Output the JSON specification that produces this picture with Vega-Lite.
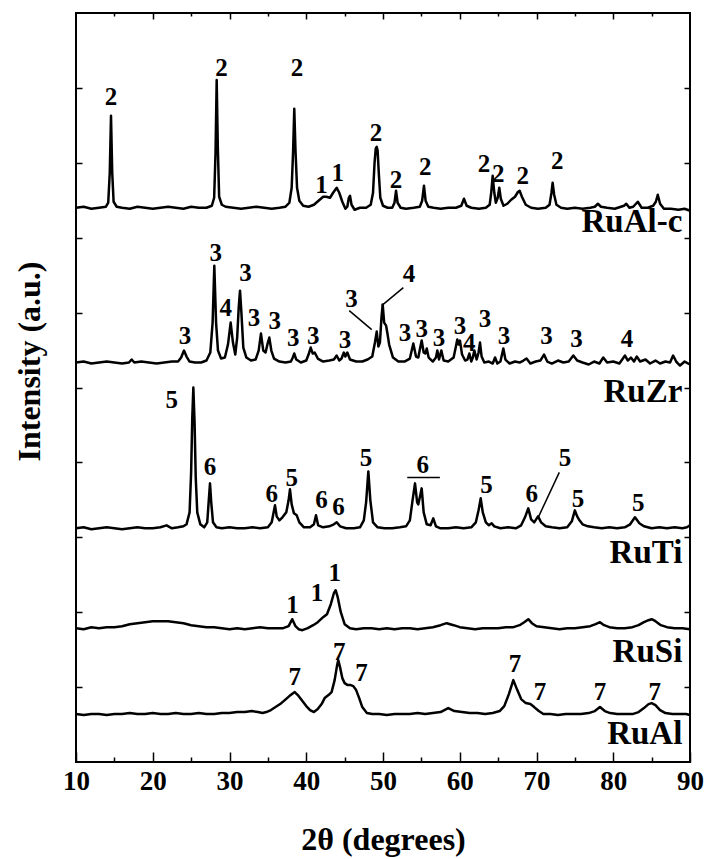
{
"$schema":"https://vega.github.io/schema/vega-lite/v6.json",
"width":614,"height":749,
"autosize":{"type":"none"},
"padding":{"left":76,"top":13,"right":19,"bottom":97},
"config":{"view":{"stroke":"black","strokeWidth":2},"axis":{"grid":false,"domain":false,"tickColor":"black","tickWidth":1.5}},
"datasets":{
"xrd":[
{"s":"RuAl-c","x":10,"y":555},{"s":"RuAl-c","x":11,"y":556},{"s":"RuAl-c","x":12,"y":554},{"s":"RuAl-c","x":13,"y":555},{"s":"RuAl-c","x":13.9,"y":556},{"s":"RuAl-c","x":14.2,"y":560},{"s":"RuAl-c","x":14.4,"y":590},{"s":"RuAl-c","x":14.56,"y":647},{"s":"RuAl-c","x":14.72,"y":590},{"s":"RuAl-c","x":14.9,"y":561},{"s":"RuAl-c","x":15.3,"y":556},{"s":"RuAl-c","x":16,"y":555},{"s":"RuAl-c","x":17,"y":554},{"s":"RuAl-c","x":18,"y":556},{"s":"RuAl-c","x":19,"y":555},{"s":"RuAl-c","x":20,"y":554},{"s":"RuAl-c","x":21,"y":555},{"s":"RuAl-c","x":22,"y":556},{"s":"RuAl-c","x":23,"y":555},{"s":"RuAl-c","x":24,"y":554},{"s":"RuAl-c","x":25,"y":556},{"s":"RuAl-c","x":26,"y":555},{"s":"RuAl-c","x":27,"y":555},{"s":"RuAl-c","x":27.7,"y":557},{"s":"RuAl-c","x":28.0,"y":565},{"s":"RuAl-c","x":28.18,"y":610},{"s":"RuAl-c","x":28.33,"y":683},{"s":"RuAl-c","x":28.48,"y":615},{"s":"RuAl-c","x":28.65,"y":566},{"s":"RuAl-c","x":29.0,"y":558},{"s":"RuAl-c","x":29.5,"y":556},{"s":"RuAl-c","x":30.5,"y":555},{"s":"RuAl-c","x":31.5,"y":554},{"s":"RuAl-c","x":32.5,"y":555},{"s":"RuAl-c","x":33.5,"y":556},{"s":"RuAl-c","x":34.5,"y":555},{"s":"RuAl-c","x":35.5,"y":554},{"s":"RuAl-c","x":36.5,"y":555},{"s":"RuAl-c","x":37.3,"y":556},{"s":"RuAl-c","x":37.8,"y":560},{"s":"RuAl-c","x":38.1,"y":575},{"s":"RuAl-c","x":38.28,"y":610},{"s":"RuAl-c","x":38.44,"y":654},{"s":"RuAl-c","x":38.6,"y":612},{"s":"RuAl-c","x":38.8,"y":575},{"s":"RuAl-c","x":39.1,"y":562},{"s":"RuAl-c","x":39.6,"y":557},{"s":"RuAl-c","x":40.3,"y":556},{"s":"RuAl-c","x":41.0,"y":558},{"s":"RuAl-c","x":41.6,"y":562},{"s":"RuAl-c","x":42.2,"y":566},{"s":"RuAl-c","x":42.6,"y":566},{"s":"RuAl-c","x":43.1,"y":565},{"s":"RuAl-c","x":43.5,"y":570},{"s":"RuAl-c","x":43.97,"y":575},{"s":"RuAl-c","x":44.3,"y":570},{"s":"RuAl-c","x":44.7,"y":561},{"s":"RuAl-c","x":45.1,"y":554},{"s":"RuAl-c","x":45.35,"y":556},{"s":"RuAl-c","x":45.55,"y":565},{"s":"RuAl-c","x":45.7,"y":567},{"s":"RuAl-c","x":45.9,"y":558},{"s":"RuAl-c","x":46.3,"y":553},{"s":"RuAl-c","x":47.0,"y":555},{"s":"RuAl-c","x":47.8,"y":555},{"s":"RuAl-c","x":48.4,"y":558},{"s":"RuAl-c","x":48.7,"y":570},{"s":"RuAl-c","x":48.9,"y":600},{"s":"RuAl-c","x":49.05,"y":614},{"s":"RuAl-c","x":49.18,"y":616},{"s":"RuAl-c","x":49.3,"y":612},{"s":"RuAl-c","x":49.45,"y":590},{"s":"RuAl-c","x":49.65,"y":565},{"s":"RuAl-c","x":50.0,"y":557},{"s":"RuAl-c","x":50.6,"y":555},{"s":"RuAl-c","x":51.2,"y":555},{"s":"RuAl-c","x":51.5,"y":560},{"s":"RuAl-c","x":51.7,"y":572},{"s":"RuAl-c","x":51.9,"y":560},{"s":"RuAl-c","x":52.3,"y":555},{"s":"RuAl-c","x":53,"y":554},{"s":"RuAl-c","x":54,"y":555},{"s":"RuAl-c","x":54.8,"y":556},{"s":"RuAl-c","x":55.1,"y":562},{"s":"RuAl-c","x":55.34,"y":577},{"s":"RuAl-c","x":55.55,"y":562},{"s":"RuAl-c","x":55.9,"y":556},{"s":"RuAl-c","x":56.6,"y":555},{"s":"RuAl-c","x":57.5,"y":554},{"s":"RuAl-c","x":58.5,"y":555},{"s":"RuAl-c","x":59.5,"y":555},{"s":"RuAl-c","x":60.2,"y":557},{"s":"RuAl-c","x":60.55,"y":564},{"s":"RuAl-c","x":60.9,"y":557},{"s":"RuAl-c","x":61.5,"y":555},{"s":"RuAl-c","x":62.5,"y":554},{"s":"RuAl-c","x":63.4,"y":555},{"s":"RuAl-c","x":63.9,"y":558},{"s":"RuAl-c","x":64.1,"y":570},{"s":"RuAl-c","x":64.29,"y":587},{"s":"RuAl-c","x":64.5,"y":570},{"s":"RuAl-c","x":64.7,"y":560},{"s":"RuAl-c","x":64.95,"y":565},{"s":"RuAl-c","x":65.15,"y":575},{"s":"RuAl-c","x":65.35,"y":564},{"s":"RuAl-c","x":65.7,"y":557},{"s":"RuAl-c","x":66.2,"y":559},{"s":"RuAl-c","x":66.7,"y":563},{"s":"RuAl-c","x":67.2,"y":566},{"s":"RuAl-c","x":67.6,"y":571},{"s":"RuAl-c","x":67.8,"y":572},{"s":"RuAl-c","x":68.1,"y":566},{"s":"RuAl-c","x":68.6,"y":558},{"s":"RuAl-c","x":69.3,"y":555},{"s":"RuAl-c","x":70.2,"y":554},{"s":"RuAl-c","x":71.2,"y":555},{"s":"RuAl-c","x":71.7,"y":558},{"s":"RuAl-c","x":71.95,"y":570},{"s":"RuAl-c","x":72.1,"y":580},{"s":"RuAl-c","x":72.3,"y":568},{"s":"RuAl-c","x":72.6,"y":558},{"s":"RuAl-c","x":73.2,"y":555},{"s":"RuAl-c","x":74,"y":554},{"s":"RuAl-c","x":75,"y":555},{"s":"RuAl-c","x":76,"y":554},{"s":"RuAl-c","x":77,"y":555},{"s":"RuAl-c","x":77.6,"y":556},{"s":"RuAl-c","x":78.0,"y":559},{"s":"RuAl-c","x":78.4,"y":556},{"s":"RuAl-c","x":79.2,"y":555},{"s":"RuAl-c","x":80.2,"y":554},{"s":"RuAl-c","x":81.0,"y":556},{"s":"RuAl-c","x":81.4,"y":557},{"s":"RuAl-c","x":81.7,"y":559},{"s":"RuAl-c","x":82.1,"y":555},{"s":"RuAl-c","x":82.6,"y":556},{"s":"RuAl-c","x":83.2,"y":561},{"s":"RuAl-c","x":83.7,"y":555},{"s":"RuAl-c","x":84.5,"y":555},{"s":"RuAl-c","x":85.2,"y":557},{"s":"RuAl-c","x":85.55,"y":561},{"s":"RuAl-c","x":85.8,"y":568},{"s":"RuAl-c","x":86.1,"y":559},{"s":"RuAl-c","x":86.6,"y":554},{"s":"RuAl-c","x":87.5,"y":554},{"s":"RuAl-c","x":88.5,"y":553},{"s":"RuAl-c","x":89.3,"y":554},{"s":"RuAl-c","x":90,"y":552},
{"s":"RuZr","x":10,"y":400},{"s":"RuZr","x":11,"y":401},{"s":"RuZr","x":12,"y":399},{"s":"RuZr","x":13,"y":400},{"s":"RuZr","x":14,"y":401},{"s":"RuZr","x":15,"y":400},{"s":"RuZr","x":16,"y":399},{"s":"RuZr","x":16.9,"y":400},{"s":"RuZr","x":17.25,"y":403},{"s":"RuZr","x":17.6,"y":400},{"s":"RuZr","x":18.5,"y":401},{"s":"RuZr","x":19.5,"y":400},{"s":"RuZr","x":20.5,"y":399},{"s":"RuZr","x":21.5,"y":400},{"s":"RuZr","x":22.5,"y":401},{"s":"RuZr","x":23.3,"y":401},{"s":"RuZr","x":23.7,"y":405},{"s":"RuZr","x":24.07,"y":412},{"s":"RuZr","x":24.4,"y":406},{"s":"RuZr","x":24.8,"y":401},{"s":"RuZr","x":25.5,"y":400},{"s":"RuZr","x":26.3,"y":400},{"s":"RuZr","x":27.0,"y":402},{"s":"RuZr","x":27.5,"y":410},{"s":"RuZr","x":27.8,"y":440},{"s":"RuZr","x":28.02,"y":497},{"s":"RuZr","x":28.25,"y":440},{"s":"RuZr","x":28.5,"y":412},{"s":"RuZr","x":28.9,"y":404},{"s":"RuZr","x":29.4,"y":405},{"s":"RuZr","x":29.8,"y":418},{"s":"RuZr","x":30.15,"y":440},{"s":"RuZr","x":30.45,"y":420},{"s":"RuZr","x":30.75,"y":408},{"s":"RuZr","x":31.0,"y":425},{"s":"RuZr","x":31.2,"y":455},{"s":"RuZr","x":31.37,"y":472},{"s":"RuZr","x":31.55,"y":450},{"s":"RuZr","x":31.8,"y":415},{"s":"RuZr","x":32.2,"y":405},{"s":"RuZr","x":32.8,"y":402},{"s":"RuZr","x":33.4,"y":403},{"s":"RuZr","x":33.8,"y":412},{"s":"RuZr","x":34.1,"y":429},{"s":"RuZr","x":34.4,"y":412},{"s":"RuZr","x":34.7,"y":410},{"s":"RuZr","x":35.0,"y":420},{"s":"RuZr","x":35.19,"y":425},{"s":"RuZr","x":35.45,"y":412},{"s":"RuZr","x":35.8,"y":404},{"s":"RuZr","x":36.5,"y":401},{"s":"RuZr","x":37.3,"y":400},{"s":"RuZr","x":38.0,"y":401},{"s":"RuZr","x":38.25,"y":405},{"s":"RuZr","x":38.44,"y":409},{"s":"RuZr","x":38.7,"y":403},{"s":"RuZr","x":39.3,"y":400},{"s":"RuZr","x":40.0,"y":402},{"s":"RuZr","x":40.3,"y":408},{"s":"RuZr","x":40.58,"y":415},{"s":"RuZr","x":40.85,"y":409},{"s":"RuZr","x":41.1,"y":410},{"s":"RuZr","x":41.5,"y":404},{"s":"RuZr","x":42.2,"y":401},{"s":"RuZr","x":43.0,"y":402},{"s":"RuZr","x":43.6,"y":403},{"s":"RuZr","x":43.96,"y":407},{"s":"RuZr","x":44.3,"y":402},{"s":"RuZr","x":44.6,"y":404},{"s":"RuZr","x":44.9,"y":410},{"s":"RuZr","x":45.1,"y":406},{"s":"RuZr","x":45.35,"y":410},{"s":"RuZr","x":45.7,"y":403},{"s":"RuZr","x":46.5,"y":401},{"s":"RuZr","x":47.3,"y":401},{"s":"RuZr","x":48.0,"y":403},{"s":"RuZr","x":48.6,"y":406},{"s":"RuZr","x":48.95,"y":420},{"s":"RuZr","x":49.18,"y":431},{"s":"RuZr","x":49.4,"y":416},{"s":"RuZr","x":49.6,"y":420},{"s":"RuZr","x":49.8,"y":445},{"s":"RuZr","x":49.96,"y":458},{"s":"RuZr","x":50.15,"y":440},{"s":"RuZr","x":50.4,"y":437},{"s":"RuZr","x":50.6,"y":428},{"s":"RuZr","x":50.8,"y":418},{"s":"RuZr","x":51.3,"y":405},{"s":"RuZr","x":52.0,"y":401},{"s":"RuZr","x":52.8,"y":401},{"s":"RuZr","x":53.5,"y":404},{"s":"RuZr","x":53.95,"y":419},{"s":"RuZr","x":54.3,"y":406},{"s":"RuZr","x":54.6,"y":405},{"s":"RuZr","x":54.85,"y":415},{"s":"RuZr","x":55.04,"y":422},{"s":"RuZr","x":55.3,"y":410},{"s":"RuZr","x":55.5,"y":409},{"s":"RuZr","x":55.7,"y":414},{"s":"RuZr","x":55.95,"y":405},{"s":"RuZr","x":56.5,"y":401},{"s":"RuZr","x":56.9,"y":405},{"s":"RuZr","x":57.08,"y":412},{"s":"RuZr","x":57.3,"y":403},{"s":"RuZr","x":57.6,"y":412},{"s":"RuZr","x":57.9,"y":402},{"s":"RuZr","x":58.5,"y":401},{"s":"RuZr","x":59.2,"y":405},{"s":"RuZr","x":59.5,"y":416},{"s":"RuZr","x":59.68,"y":423},{"s":"RuZr","x":59.85,"y":418},{"s":"RuZr","x":60.03,"y":422},{"s":"RuZr","x":60.3,"y":408},{"s":"RuZr","x":60.7,"y":402},{"s":"RuZr","x":61.0,"y":403},{"s":"RuZr","x":61.25,"y":409},{"s":"RuZr","x":61.5,"y":401},{"s":"RuZr","x":61.7,"y":405},{"s":"RuZr","x":61.9,"y":412},{"s":"RuZr","x":62.2,"y":403},{"s":"RuZr","x":62.45,"y":410},{"s":"RuZr","x":62.64,"y":420},{"s":"RuZr","x":62.85,"y":406},{"s":"RuZr","x":63.2,"y":400},{"s":"RuZr","x":63.8,"y":401},{"s":"RuZr","x":64.3,"y":399},{"s":"RuZr","x":64.6,"y":405},{"s":"RuZr","x":64.9,"y":399},{"s":"RuZr","x":65.3,"y":401},{"s":"RuZr","x":65.68,"y":414},{"s":"RuZr","x":65.95,"y":403},{"s":"RuZr","x":66.5,"y":399},{"s":"RuZr","x":67.2,"y":401},{"s":"RuZr","x":67.8,"y":400},{"s":"RuZr","x":68.3,"y":402},{"s":"RuZr","x":68.7,"y":404},{"s":"RuZr","x":69.2,"y":399},{"s":"RuZr","x":69.9,"y":401},{"s":"RuZr","x":70.5,"y":402},{"s":"RuZr","x":70.98,"y":408},{"s":"RuZr","x":71.4,"y":401},{"s":"RuZr","x":72.0,"y":399},{"s":"RuZr","x":72.8,"y":402},{"s":"RuZr","x":73.5,"y":400},{"s":"RuZr","x":74.2,"y":401},{"s":"RuZr","x":74.8,"y":407},{"s":"RuZr","x":75.3,"y":402},{"s":"RuZr","x":76.0,"y":400},{"s":"RuZr","x":76.8,"y":398},{"s":"RuZr","x":77.5,"y":401},{"s":"RuZr","x":78.2,"y":399},{"s":"RuZr","x":78.7,"y":405},{"s":"RuZr","x":79.2,"y":400},{"s":"RuZr","x":80.0,"y":401},{"s":"RuZr","x":80.8,"y":399},{"s":"RuZr","x":81.53,"y":407},{"s":"RuZr","x":81.9,"y":402},{"s":"RuZr","x":82.3,"y":405},{"s":"RuZr","x":82.7,"y":401},{"s":"RuZr","x":83.06,"y":406},{"s":"RuZr","x":83.5,"y":401},{"s":"RuZr","x":84.2,"y":403},{"s":"RuZr","x":84.8,"y":399},{"s":"RuZr","x":85.5,"y":402},{"s":"RuZr","x":86.1,"y":399},{"s":"RuZr","x":86.8,"y":401},{"s":"RuZr","x":87.4,"y":400},{"s":"RuZr","x":87.8,"y":407},{"s":"RuZr","x":88.2,"y":401},{"s":"RuZr","x":88.7,"y":397},{"s":"RuZr","x":89.3,"y":401},{"s":"RuZr","x":90,"y":398},
{"s":"RuTi","x":10,"y":234},{"s":"RuTi","x":11,"y":235},{"s":"RuTi","x":12,"y":233},{"s":"RuTi","x":13,"y":234},{"s":"RuTi","x":14,"y":235},{"s":"RuTi","x":15,"y":234},{"s":"RuTi","x":16,"y":233},{"s":"RuTi","x":17,"y":234},{"s":"RuTi","x":18,"y":235},{"s":"RuTi","x":19,"y":234},{"s":"RuTi","x":20,"y":234},{"s":"RuTi","x":21,"y":235},{"s":"RuTi","x":21.8,"y":237},{"s":"RuTi","x":22.5,"y":234},{"s":"RuTi","x":23.3,"y":235},{"s":"RuTi","x":24.0,"y":236},{"s":"RuTi","x":24.4,"y":238},{"s":"RuTi","x":24.8,"y":250},{"s":"RuTi","x":25.0,"y":290},{"s":"RuTi","x":25.15,"y":345},{"s":"RuTi","x":25.29,"y":375},{"s":"RuTi","x":25.45,"y":340},{"s":"RuTi","x":25.6,"y":285},{"s":"RuTi","x":25.8,"y":250},{"s":"RuTi","x":26.2,"y":238},{"s":"RuTi","x":26.7,"y":235},{"s":"RuTi","x":27.1,"y":240},{"s":"RuTi","x":27.3,"y":262},{"s":"RuTi","x":27.46,"y":279},{"s":"RuTi","x":27.62,"y":260},{"s":"RuTi","x":27.85,"y":240},{"s":"RuTi","x":28.3,"y":235},{"s":"RuTi","x":29,"y":234},{"s":"RuTi","x":30,"y":235},{"s":"RuTi","x":31,"y":234},{"s":"RuTi","x":32,"y":234},{"s":"RuTi","x":33,"y":235},{"s":"RuTi","x":34,"y":234},{"s":"RuTi","x":35,"y":235},{"s":"RuTi","x":35.5,"y":240},{"s":"RuTi","x":35.75,"y":250},{"s":"RuTi","x":35.93,"y":257},{"s":"RuTi","x":36.15,"y":246},{"s":"RuTi","x":36.5,"y":242},{"s":"RuTi","x":36.9,"y":245},{"s":"RuTi","x":37.4,"y":250},{"s":"RuTi","x":37.7,"y":262},{"s":"RuTi","x":37.88,"y":273},{"s":"RuTi","x":38.1,"y":258},{"s":"RuTi","x":38.4,"y":249},{"s":"RuTi","x":38.76,"y":247},{"s":"RuTi","x":39.1,"y":240},{"s":"RuTi","x":39.7,"y":235},{"s":"RuTi","x":40.5,"y":235},{"s":"RuTi","x":41.0,"y":238},{"s":"RuTi","x":41.27,"y":247},{"s":"RuTi","x":41.55,"y":237},{"s":"RuTi","x":42.2,"y":235},{"s":"RuTi","x":43.0,"y":236},{"s":"RuTi","x":43.6,"y":238},{"s":"RuTi","x":43.97,"y":240},{"s":"RuTi","x":44.4,"y":236},{"s":"RuTi","x":45.2,"y":234},{"s":"RuTi","x":46.2,"y":234},{"s":"RuTi","x":47.0,"y":235},{"s":"RuTi","x":47.5,"y":242},{"s":"RuTi","x":47.8,"y":260},{"s":"RuTi","x":48.09,"y":291},{"s":"RuTi","x":48.35,"y":262},{"s":"RuTi","x":48.7,"y":240},{"s":"RuTi","x":49.3,"y":235},{"s":"RuTi","x":50.2,"y":234},{"s":"RuTi","x":51.2,"y":234},{"s":"RuTi","x":52.2,"y":235},{"s":"RuTi","x":53.0,"y":236},{"s":"RuTi","x":53.5,"y":242},{"s":"RuTi","x":53.85,"y":262},{"s":"RuTi","x":54.17,"y":279},{"s":"RuTi","x":54.45,"y":260},{"s":"RuTi","x":54.6,"y":258},{"s":"RuTi","x":54.8,"y":265},{"s":"RuTi","x":55.04,"y":274},{"s":"RuTi","x":55.3,"y":250},{"s":"RuTi","x":55.7,"y":238},{"s":"RuTi","x":56.2,"y":237},{"s":"RuTi","x":56.55,"y":244},{"s":"RuTi","x":56.9,"y":236},{"s":"RuTi","x":57.5,"y":234},{"s":"RuTi","x":58.5,"y":234},{"s":"RuTi","x":59.5,"y":235},{"s":"RuTi","x":60.5,"y":234},{"s":"RuTi","x":61.5,"y":235},{"s":"RuTi","x":62.1,"y":240},{"s":"RuTi","x":62.45,"y":252},{"s":"RuTi","x":62.73,"y":264},{"s":"RuTi","x":63.0,"y":250},{"s":"RuTi","x":63.4,"y":240},{"s":"RuTi","x":63.8,"y":237},{"s":"RuTi","x":64.16,"y":239},{"s":"RuTi","x":64.5,"y":236},{"s":"RuTi","x":65.3,"y":234},{"s":"RuTi","x":66.3,"y":235},{"s":"RuTi","x":67.3,"y":234},{"s":"RuTi","x":68.0,"y":237},{"s":"RuTi","x":68.5,"y":245},{"s":"RuTi","x":68.93,"y":254},{"s":"RuTi","x":69.3,"y":243},{"s":"RuTi","x":69.7,"y":240},{"s":"RuTi","x":70.2,"y":246},{"s":"RuTi","x":70.6,"y":240},{"s":"RuTi","x":71.2,"y":236},{"s":"RuTi","x":72.0,"y":235},{"s":"RuTi","x":73.0,"y":234},{"s":"RuTi","x":74.0,"y":235},{"s":"RuTi","x":74.6,"y":241},{"s":"RuTi","x":75.0,"y":252},{"s":"RuTi","x":75.3,"y":246},{"s":"RuTi","x":75.6,"y":242},{"s":"RuTi","x":76.0,"y":238},{"s":"RuTi","x":76.7,"y":236},{"s":"RuTi","x":77.5,"y":235},{"s":"RuTi","x":78.5,"y":234},{"s":"RuTi","x":79.5,"y":235},{"s":"RuTi","x":80.5,"y":234},{"s":"RuTi","x":81.5,"y":235},{"s":"RuTi","x":82.2,"y":238},{"s":"RuTi","x":82.83,"y":245},{"s":"RuTi","x":83.4,"y":239},{"s":"RuTi","x":84.0,"y":236},{"s":"RuTi","x":85.0,"y":234},{"s":"RuTi","x":86.0,"y":235},{"s":"RuTi","x":87.0,"y":234},{"s":"RuTi","x":88.0,"y":235},{"s":"RuTi","x":89.0,"y":234},{"s":"RuTi","x":89.6,"y":235},{"s":"RuTi","x":90,"y":237},
{"s":"RuSi","x":10,"y":134},{"s":"RuSi","x":11,"y":133},{"s":"RuSi","x":12,"y":135},{"s":"RuSi","x":13,"y":134},{"s":"RuSi","x":14,"y":135},{"s":"RuSi","x":15,"y":135},{"s":"RuSi","x":16,"y":136},{"s":"RuSi","x":17,"y":138},{"s":"RuSi","x":18,"y":139},{"s":"RuSi","x":19,"y":140},{"s":"RuSi","x":20,"y":141},{"s":"RuSi","x":21,"y":141},{"s":"RuSi","x":22,"y":141},{"s":"RuSi","x":23,"y":140},{"s":"RuSi","x":24,"y":139},{"s":"RuSi","x":25,"y":137},{"s":"RuSi","x":26,"y":136},{"s":"RuSi","x":27,"y":135},{"s":"RuSi","x":28,"y":135},{"s":"RuSi","x":29,"y":134},{"s":"RuSi","x":30,"y":133},{"s":"RuSi","x":31,"y":134},{"s":"RuSi","x":32,"y":133},{"s":"RuSi","x":33,"y":134},{"s":"RuSi","x":34,"y":135},{"s":"RuSi","x":35,"y":134},{"s":"RuSi","x":36,"y":134},{"s":"RuSi","x":37,"y":134},{"s":"RuSi","x":37.7,"y":136},{"s":"RuSi","x":38.18,"y":143},{"s":"RuSi","x":38.6,"y":136},{"s":"RuSi","x":39.0,"y":133},{"s":"RuSi","x":39.5,"y":132},{"s":"RuSi","x":40.2,"y":134},{"s":"RuSi","x":40.9,"y":137},{"s":"RuSi","x":41.5,"y":140},{"s":"RuSi","x":42.2,"y":145},{"s":"RuSi","x":42.7,"y":148},{"s":"RuSi","x":43.2,"y":158},{"s":"RuSi","x":43.6,"y":169},{"s":"RuSi","x":43.83,"y":172},{"s":"RuSi","x":44.1,"y":165},{"s":"RuSi","x":44.5,"y":150},{"s":"RuSi","x":45.0,"y":138},{"s":"RuSi","x":45.7,"y":134},{"s":"RuSi","x":46.5,"y":133},{"s":"RuSi","x":47.5,"y":134},{"s":"RuSi","x":48.5,"y":134},{"s":"RuSi","x":49.5,"y":133},{"s":"RuSi","x":50.5,"y":134},{"s":"RuSi","x":51.5,"y":133},{"s":"RuSi","x":52.5,"y":134},{"s":"RuSi","x":53.5,"y":134},{"s":"RuSi","x":54.5,"y":133},{"s":"RuSi","x":55.5,"y":134},{"s":"RuSi","x":56.5,"y":135},{"s":"RuSi","x":57.5,"y":137},{"s":"RuSi","x":58.3,"y":139},{"s":"RuSi","x":59.2,"y":137},{"s":"RuSi","x":60.0,"y":135},{"s":"RuSi","x":61.0,"y":134},{"s":"RuSi","x":62.0,"y":133},{"s":"RuSi","x":63.0,"y":134},{"s":"RuSi","x":64.0,"y":134},{"s":"RuSi","x":65.0,"y":134},{"s":"RuSi","x":66.0,"y":135},{"s":"RuSi","x":67.0,"y":135},{"s":"RuSi","x":67.8,"y":137},{"s":"RuSi","x":68.4,"y":140},{"s":"RuSi","x":68.93,"y":143},{"s":"RuSi","x":69.4,"y":139},{"s":"RuSi","x":70.0,"y":136},{"s":"RuSi","x":71.0,"y":135},{"s":"RuSi","x":72.0,"y":134},{"s":"RuSi","x":73.0,"y":133},{"s":"RuSi","x":74.0,"y":134},{"s":"RuSi","x":75.0,"y":134},{"s":"RuSi","x":76.0,"y":135},{"s":"RuSi","x":77.0,"y":136},{"s":"RuSi","x":77.7,"y":138},{"s":"RuSi","x":78.27,"y":140},{"s":"RuSi","x":78.8,"y":137},{"s":"RuSi","x":79.5,"y":135},{"s":"RuSi","x":80.5,"y":134},{"s":"RuSi","x":81.5,"y":134},{"s":"RuSi","x":82.5,"y":135},{"s":"RuSi","x":83.3,"y":137},{"s":"RuSi","x":84.0,"y":140},{"s":"RuSi","x":84.6,"y":142},{"s":"RuSi","x":85.0,"y":143},{"s":"RuSi","x":85.5,"y":141},{"s":"RuSi","x":86.2,"y":137},{"s":"RuSi","x":87.0,"y":135},{"s":"RuSi","x":88.0,"y":134},{"s":"RuSi","x":89.0,"y":134},{"s":"RuSi","x":90,"y":133},
{"s":"RuAl","x":10,"y":48},{"s":"RuAl","x":11,"y":47},{"s":"RuAl","x":12,"y":48},{"s":"RuAl","x":13,"y":48},{"s":"RuAl","x":14,"y":47},{"s":"RuAl","x":15,"y":48},{"s":"RuAl","x":16,"y":48},{"s":"RuAl","x":17,"y":49},{"s":"RuAl","x":18,"y":48},{"s":"RuAl","x":19,"y":48},{"s":"RuAl","x":20,"y":49},{"s":"RuAl","x":21,"y":48},{"s":"RuAl","x":22,"y":48},{"s":"RuAl","x":23,"y":49},{"s":"RuAl","x":24,"y":48},{"s":"RuAl","x":25,"y":48},{"s":"RuAl","x":26,"y":49},{"s":"RuAl","x":27,"y":48},{"s":"RuAl","x":28,"y":48},{"s":"RuAl","x":29,"y":49},{"s":"RuAl","x":30,"y":49},{"s":"RuAl","x":31,"y":50},{"s":"RuAl","x":32,"y":50},{"s":"RuAl","x":32.9,"y":51},{"s":"RuAl","x":33.7,"y":50},{"s":"RuAl","x":34.3,"y":49},{"s":"RuAl","x":34.8,"y":50},{"s":"RuAl","x":35.4,"y":52},{"s":"RuAl","x":36.0,"y":55},{"s":"RuAl","x":36.6,"y":58},{"s":"RuAl","x":37.2,"y":62},{"s":"RuAl","x":37.8,"y":66},{"s":"RuAl","x":38.5,"y":70},{"s":"RuAl","x":38.9,"y":67},{"s":"RuAl","x":39.4,"y":62},{"s":"RuAl","x":40.0,"y":56},{"s":"RuAl","x":40.5,"y":52},{"s":"RuAl","x":41.0,"y":50},{"s":"RuAl","x":41.5,"y":53},{"s":"RuAl","x":42.0,"y":58},{"s":"RuAl","x":42.4,"y":64},{"s":"RuAl","x":42.9,"y":67},{"s":"RuAl","x":43.3,"y":70},{"s":"RuAl","x":43.7,"y":82},{"s":"RuAl","x":44.0,"y":96},{"s":"RuAl","x":44.17,"y":102},{"s":"RuAl","x":44.4,"y":95},{"s":"RuAl","x":44.7,"y":84},{"s":"RuAl","x":45.0,"y":79},{"s":"RuAl","x":45.4,"y":77},{"s":"RuAl","x":45.8,"y":77},{"s":"RuAl","x":46.13,"y":76},{"s":"RuAl","x":46.5,"y":72},{"s":"RuAl","x":46.9,"y":64},{"s":"RuAl","x":47.3,"y":55},{"s":"RuAl","x":47.9,"y":49},{"s":"RuAl","x":48.6,"y":48},{"s":"RuAl","x":49.5,"y":48},{"s":"RuAl","x":50.5,"y":47},{"s":"RuAl","x":51.5,"y":48},{"s":"RuAl","x":52.5,"y":48},{"s":"RuAl","x":53.5,"y":48},{"s":"RuAl","x":54.5,"y":49},{"s":"RuAl","x":55.5,"y":48},{"s":"RuAl","x":56.5,"y":49},{"s":"RuAl","x":57.5,"y":50},{"s":"RuAl","x":58.5,"y":54},{"s":"RuAl","x":59.3,"y":51},{"s":"RuAl","x":60.3,"y":50},{"s":"RuAl","x":61.3,"y":49},{"s":"RuAl","x":62.3,"y":49},{"s":"RuAl","x":63.3,"y":48},{"s":"RuAl","x":64.3,"y":49},{"s":"RuAl","x":65.2,"y":51},{"s":"RuAl","x":65.8,"y":56},{"s":"RuAl","x":66.4,"y":68},{"s":"RuAl","x":66.98,"y":82},{"s":"RuAl","x":67.5,"y":72},{"s":"RuAl","x":68.0,"y":63},{"s":"RuAl","x":68.6,"y":59},{"s":"RuAl","x":69.2,"y":58},{"s":"RuAl","x":69.7,"y":55},{"s":"RuAl","x":70.3,"y":51},{"s":"RuAl","x":70.9,"y":48},{"s":"RuAl","x":71.8,"y":48},{"s":"RuAl","x":72.8,"y":47},{"s":"RuAl","x":73.8,"y":48},{"s":"RuAl","x":74.8,"y":48},{"s":"RuAl","x":75.8,"y":48},{"s":"RuAl","x":76.8,"y":49},{"s":"RuAl","x":77.6,"y":51},{"s":"RuAl","x":78.27,"y":55},{"s":"RuAl","x":78.9,"y":51},{"s":"RuAl","x":79.6,"y":49},{"s":"RuAl","x":80.5,"y":48},{"s":"RuAl","x":81.5,"y":48},{"s":"RuAl","x":82.5,"y":48},{"s":"RuAl","x":83.3,"y":50},{"s":"RuAl","x":84.0,"y":54},{"s":"RuAl","x":84.6,"y":58},{"s":"RuAl","x":85.0,"y":59},{"s":"RuAl","x":85.5,"y":57},{"s":"RuAl","x":86.1,"y":52},{"s":"RuAl","x":86.8,"y":49},{"s":"RuAl","x":87.7,"y":48},{"s":"RuAl","x":88.7,"y":48},{"s":"RuAl","x":89.5,"y":48},{"s":"RuAl","x":90,"y":47}
],
"labels":[
{"t":"2","x":14.56,"y":666},{"t":"2","x":28.95,"y":695},{"t":"2","x":38.8,"y":695},{"t":"1","x":42.0,"y":578},{"t":"1","x":44.1,"y":590},{"t":"2","x":49.1,"y":630},{"t":"2","x":51.7,"y":583},{"t":"2","x":55.5,"y":596},{"t":"2","x":63.16,"y":599},{"t":"2","x":65.0,"y":589},{"t":"2","x":68.2,"y":587},{"t":"2","x":72.7,"y":602},
{"t":"3","x":24.2,"y":427},{"t":"3","x":28.2,"y":510},{"t":"4","x":29.5,"y":455},{"t":"3","x":32.1,"y":490},{"t":"3","x":33.2,"y":445},{"t":"3","x":35.9,"y":442},{"t":"3","x":38.3,"y":425},{"t":"3","x":40.9,"y":427},{"t":"3","x":45.05,"y":423},{"t":"3","x":45.9,"y":464},{"t":"4","x":53.4,"y":489},{"t":"3","x":52.87,"y":430},{"t":"3","x":55.04,"y":434},{"t":"3","x":57.3,"y":425},{"t":"3","x":60.03,"y":437},{"t":"4","x":61.25,"y":420},{"t":"3","x":63.3,"y":444},{"t":"3","x":65.77,"y":427},{"t":"3","x":71.3,"y":427},{"t":"3","x":75.2,"y":424},{"t":"4","x":81.8,"y":424},
{"t":"5","x":22.47,"y":362},{"t":"6","x":27.46,"y":295},{"t":"6","x":35.5,"y":268},{"t":"5","x":38.1,"y":284},{"t":"6","x":42.0,"y":262},{"t":"6","x":44.2,"y":255},{"t":"5","x":47.8,"y":304},{"t":"6","x":55.17,"y":297},{"t":"5","x":63.5,"y":277},{"t":"6","x":69.37,"y":268},{"t":"5","x":73.7,"y":304},{"t":"5","x":75.4,"y":263},{"t":"5","x":83.26,"y":259},
{"t":"1","x":38.2,"y":157},{"t":"1","x":41.4,"y":169},{"t":"1","x":43.7,"y":189},
{"t":"7","x":38.5,"y":85},{"t":"7","x":44.3,"y":110},{"t":"7","x":47.2,"y":89},{"t":"7","x":67.2,"y":98},{"t":"7","x":70.46,"y":70},{"t":"7","x":78.27,"y":70},{"t":"7","x":85.4,"y":70}
],
"names":[
{"t":"RuAl-c","x":89.0,"y":541},{"t":"RuZr","x":89.0,"y":370},{"t":"RuTi","x":89.0,"y":209},{"t":"RuSi","x":89.0,"y":110},{"t":"RuAl","x":89.0,"y":28}
],
"leaders":[
{"x":45.6,"y":452,"x2":48.53,"y2":433},{"x":52.65,"y":475,"x2":49.83,"y2":457},{"x":53.16,"y":285,"x2":57.41,"y2":285},{"x":72.97,"y":290,"x2":70.23,"y2":245}
]
},
"layer":[
{"data":{"name":"xrd"},"mark":{"type":"line","color":"black","strokeWidth":2.5,"strokeJoin":"round"},
"encoding":{
"x":{"field":"x","type":"quantitative","scale":{"domain":[10,90],"nice":false,"zero":false},
"axis":{"orient":"bottom","title":"2θ (degrees)","values":[10,15,20,25,30,35,40,45,50,55,60,65,70,75,80,85,90],"labelExpr":"datum.value % 10 === 0 ? datum.label : ''","tickSize":{"condition":{"test":"datum.value % 10 === 0","value":-10},"value":-5},"labelPadding":16,"labelFont":"Liberation Serif","labelFontWeight":"bold","labelFontSize":27,"labelColor":"black","titleFont":"Liberation Serif","titleFontWeight":"bold","titleFontSize":32,"titleColor":"black","titlePadding":25,"labelFlush":false,"labelOverlap":false}},
"y":{"field":"y","type":"quantitative","scale":{"domain":[0,750],"nice":false,"zero":false},
"axis":{"orient":"left","title":"Intensity (a.u.)","values":[75,150,225,300,375,450,525,600,675],"labels":false,"tickSize":-6,"titleFont":"Liberation Serif","titleFontWeight":"bold","titleFontSize":32,"titleColor":"black","titlePadding":29,"titleY":348}},
"detail":{"field":"s"}}},
{"data":{"name":"leaders"},"mark":{"type":"rule","color":"black","strokeWidth":1.5},
"encoding":{"x":{"field":"x","type":"quantitative","axis":null},"x2":{"field":"x2"},"y":{"field":"y","type":"quantitative","axis":null},"y2":{"field":"y2"}}},
{"data":{"name":"labels"},"mark":{"type":"text","font":"Liberation Serif","fontWeight":"bold","fontSize":25,"color":"black","baseline":"middle","align":"center"},
"encoding":{"x":{"field":"x","type":"quantitative","axis":null},"y":{"field":"y","type":"quantitative","axis":null},"text":{"field":"t"}}},
{"data":{"name":"names"},"mark":{"type":"text","font":"Liberation Serif","fontWeight":"bold","fontSize":33,"color":"black","baseline":"middle","align":"right"},
"encoding":{
"x":{"field":"x","type":"quantitative","axis":{"orient":"top","title":null,"labels":false,"values":[15,20,25,30,35,40,45,50,55,60,65,70,75,80,85],"tickSize":{"condition":{"test":"datum.value % 10 === 0","value":-6},"value":-3}}},
"y":{"field":"y","type":"quantitative","axis":{"orient":"right","title":null,"labels":false,"values":[75,150,225,300,375,450,525,600,675],"tickSize":-6}},
"text":{"field":"t"}}}
],
"resolve":{"axis":{"x":"independent","y":"independent"}}
}
